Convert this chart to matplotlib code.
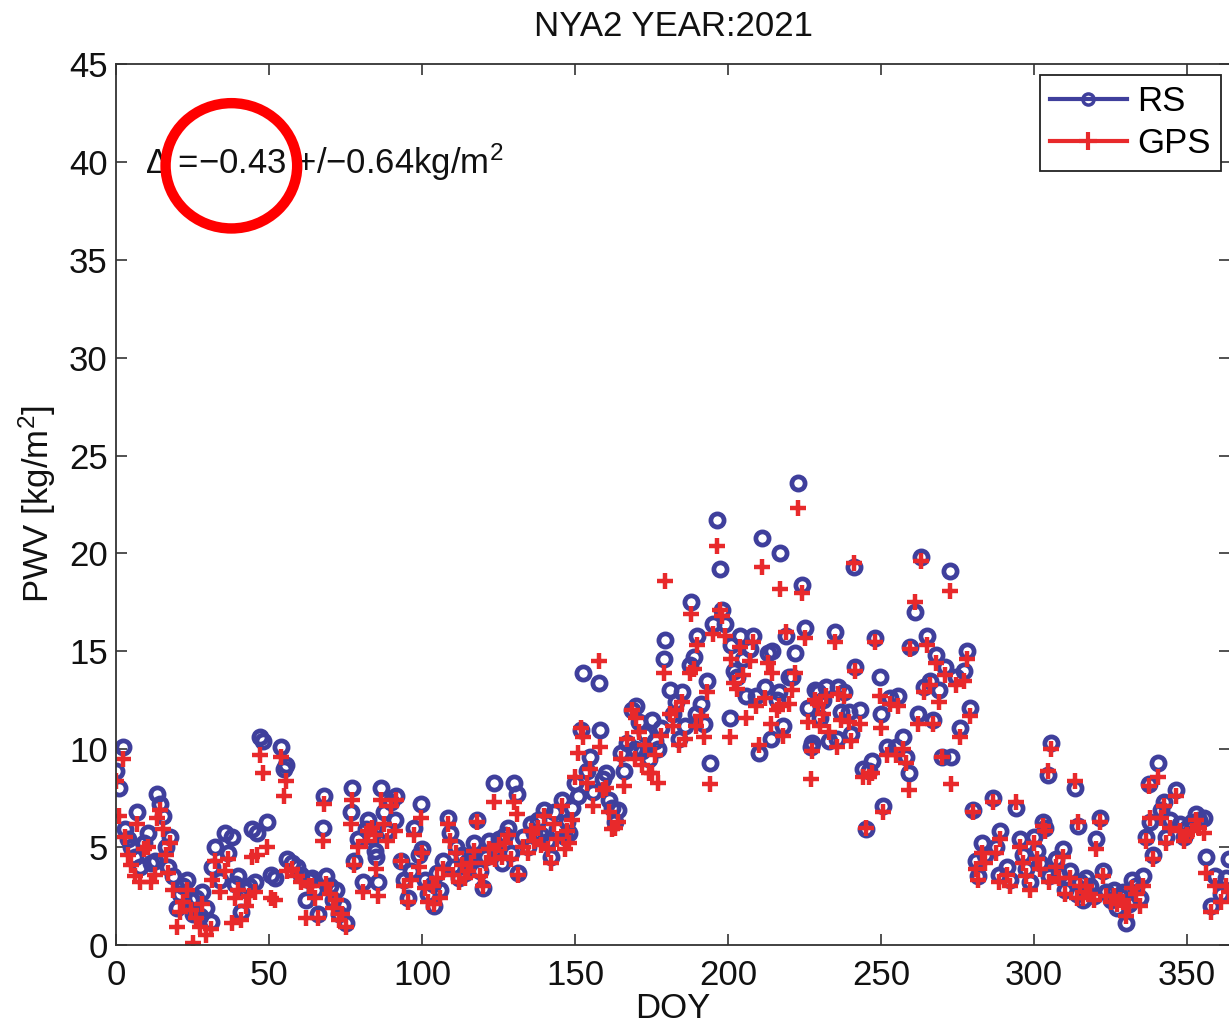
import matplotlib
matplotlib.use('Agg')
import matplotlib.pyplot as plt
from matplotlib.lines import Line2D
from matplotlib.patches import Ellipse

# DOY, radiosonde PWV, GPS PWV (kg/m^2)
doy = [0, 1, 2.3, 3, 4, 5, 6.2, 7, 8, 9, 10.5, 11.5, 12.8, 13.4, 14.5, 15.4, 16.2, 17, 17.7, 18.7,
       20, 21, 22, 23.3, 24.5, 25, 26.3, 27.5, 28, 29.5, 31, 31.5, 32.5, 34, 35.7, 36.5, 38, 39, 40, 41,
       42.5, 43.5, 44.6, 45.3, 46, 47, 48, 49.5, 50.5, 52, 53.8, 55, 55.4, 56, 57.5, 59, 60.5, 62, 63, 64,
       65, 66, 67.5, 68, 68.5, 70, 71, 72, 73, 74, 75, 76.7, 77, 77.7, 79, 80.6, 81.6, 82.5, 83.5, 84.5,
       85, 85.6, 86.5, 87.5, 88.5, 90, 91, 91.5, 93, 94, 95.4, 96.5, 97.5, 99, 99.7,
       100, 101, 102, 103.5, 104, 105, 106, 107, 108.5, 109, 110, 111, 112, 113, 114, 115, 116, 117, 118, 119,
       120, 121, 122, 123.6, 124, 125, 126, 127, 128, 129, 130, 131, 131.5, 133, 134.7, 135.5, 136.5, 138, 139, 140,
       141, 142, 143, 144, 145.6, 146.6, 147.5, 148, 149,
       150, 151, 152, 152.5, 154, 155, 156, 157.7, 158, 159, 160, 161, 162, 163, 164, 165, 166, 167, 168.5, 169.5,
       170, 171, 172, 173, 174, 175, 176, 177, 178, 179, 179.5, 181, 182, 183, 184, 185, 186, 187.5, 188, 189,
       189.5, 190, 191, 192, 193, 194, 195, 196.5, 197.5, 198, 199, 200.6,
       201, 202, 203, 204, 205, 206, 207, 208, 209, 210, 211, 212, 213, 214, 214.5, 216, 216.6, 217, 218, 219,
       220, 221, 222, 223, 224, 225, 226, 227, 227.5, 228.5, 229.5, 230, 231, 232, 233, 235, 235.5, 236, 237, 238,
       239.6, 240, 241, 241.6, 243, 244, 245, 246, 247, 248, 249.5, 250, 250.6,
       252, 253, 255, 255.5, 257, 258, 259, 259.5, 261, 262, 263, 264, 265, 266, 267, 268, 269, 270, 271, 272.5,
       272.8, 274.4, 275.7, 277, 278, 279, 280, 281, 281.5, 283, 284, 286.6, 287.5, 288.5, 289, 291, 292, 294,
       295.4, 296.5, 297.5, 298.7, 300,
       301, 302, 303, 303.6, 304.6, 305, 305.6, 307, 308, 309.5, 310, 311.8, 313.4, 314, 314.4, 315, 316, 317,
       318.3, 319.5, 320.3, 321.6, 322.6, 323.6, 325, 326, 327, 328, 329, 330, 331, 332, 333.4, 334.5, 335.7,
       336.7, 337.4, 338, 339, 340.6, 341.5, 342.3, 343, 344.5, 346.5, 347.5, 349, 350, 351.5, 353, 354, 355.4,
       356, 357.7, 359, 361, 362.6, 363.6]

rs = [8.9, 8.0, 10.1, 5.9, 5.4, 5.0, 4.5, 6.8, 4.0, 5.2, 5.7, 4.2, 4.3, 7.7, 7.2, 6.6, 5.0, 4.0, 5.5, 3.5,
      1.9, 2.6, 3.0, 3.3, 2.3, 1.6, 2.4, 1.5, 2.7, 1.9, 1.2, 4.0, 5.0, 3.3, 5.7, 4.7, 5.5, 3.1, 3.5, 1.7,
      2.8, 3.0, 5.9, 3.2, 5.7, 10.6, 10.4, 6.3, 3.6, 3.4, 10.1, 9.0, 9.2, 4.4, 4.2, 4.0, 3.6, 2.3, 3.3, 3.4,
      2.8, 1.6, 6.0, 7.6, 3.5, 3.0, 2.3, 2.8, 1.6, 2.0, 1.1, 6.8, 8.0, 4.3, 5.4, 3.2, 5.9, 6.4, 5.5, 4.8,
      4.5, 3.2, 8.0, 6.8, 5.8, 7.3, 6.4, 7.6, 4.3, 3.3, 2.4, 3.8, 6.0, 4.6, 7.2,
      4.9, 3.3, 2.6, 3.1, 2.0, 3.7, 2.8, 4.3, 6.5, 5.7, 4.0, 5.0, 3.4, 4.6, 3.7, 4.3, 4.5, 5.2, 6.4, 3.8,
      2.9, 4.5, 5.3, 8.3, 4.9, 5.4, 4.2, 5.6, 6.0, 4.7, 8.3, 7.7, 3.7, 5.5, 5.0, 6.2, 5.7, 6.4, 5.6, 6.9,
      5.3, 4.5, 6.8, 5.9, 7.4, 5.5, 6.3, 5.7, 7.0,
      8.3, 7.6, 11.0, 13.9, 8.9, 9.6, 7.8, 13.4, 11.0, 8.5, 8.8, 7.4, 7.0, 6.3, 6.9, 9.8, 8.9, 10.3, 12.0, 10.0,
      12.2, 11.4, 9.9, 10.8, 9.5, 11.5, 10.4, 10.0, 11.1, 14.6, 15.6, 13.0, 11.8, 12.4, 10.5, 12.9, 11.2, 14.3, 17.5, 14.7,
      11.8, 15.8, 12.3, 11.3, 13.5, 9.3, 16.4, 21.7, 19.2, 17.1, 16.4, 11.6,
      15.3, 14.0, 13.7, 15.8, 14.6, 12.7, 15.1, 15.8, 12.7, 9.8, 20.8, 13.2, 14.9, 10.5, 15.0, 12.5, 12.9, 20.0, 11.2, 15.8,
      13.7, 13.7, 14.9, 23.6, 18.4, 16.2, 12.1, 10.1, 10.3, 13.0, 12.9, 11.6, 12.5, 13.2, 10.4, 16.0, 10.5, 13.2, 11.9, 12.9,
      11.9, 10.8, 19.3, 14.2, 12.0, 9.0, 5.9, 8.9, 9.4, 15.7, 13.7, 11.8, 7.1,
      10.1, 12.6, 10.1, 12.7, 10.6, 9.6, 8.8, 15.2, 17.0, 11.8, 19.8, 13.2, 15.8, 13.5, 11.5, 14.8, 13.0, 9.6, 14.2, 19.1,
      9.6, 13.7, 11.1, 14.0, 15.0, 12.1, 6.9, 4.3, 3.5, 5.2, 4.6, 7.5, 5.0, 3.6, 5.8, 4.0, 3.3, 7.0,
      5.4, 4.6, 3.9, 3.2, 5.5,
      4.8, 4.2, 6.3, 6.0, 8.7, 3.5, 10.3, 4.4, 3.6, 4.9, 2.8, 3.8, 8.0, 2.6, 6.1, 3.2, 2.3, 3.4,
      3.0, 2.5, 5.4, 6.5, 3.8, 2.7, 2.3, 2.8, 1.9, 2.5, 2.7, 1.1, 2.1, 3.3, 3.0, 2.4, 3.5,
      5.5, 8.2, 6.3, 4.6, 9.3, 6.9, 7.3, 5.5, 6.4, 7.9, 6.2, 5.5, 6.0, 6.3, 6.7, 6.4, 6.5,
      4.5, 2.0, 3.5, 2.6, 3.4, 4.4]

gps = [8.4, 6.6, 9.5, 5.5, 4.6, 4.1, 3.5, 6.2, 3.2, 4.9, 5.0, 3.2, 3.6, 6.5, 6.9, 5.9, 4.6, 3.7, 5.2, 2.8,
       0.9, 1.7, 2.2, 2.8, 1.8, 0.1, 1.4, 0.9, 2.1, 0.5, 0.8, 3.3, 4.3, 2.7, 3.8, 4.4, 1.1, 2.4, 2.8, 1.3,
       2.0, 2.5, 4.5, 2.7, 4.6, 9.7, 8.8, 5.0, 2.4, 2.3, 9.6, 7.6, 8.4, 3.8, 3.9, 3.5, 3.2, 1.4, 3.0, 3.0,
       2.4, 1.4, 5.3, 7.2, 3.1, 2.6, 1.9, 2.3, 1.3, 1.6, 0.9, 6.2, 7.4, 4.1, 5.0, 2.7, 5.3, 5.8, 6.0, 5.6,
       3.9, 2.5, 7.4, 6.2, 5.3, 7.1, 5.8, 7.4, 4.3, 3.0, 2.2, 3.3, 5.6, 4.0, 6.5,
       4.7, 2.9, 2.2, 3.0, 2.1, 3.4, 2.4, 3.9, 6.2, 5.3, 3.6, 4.7, 3.2, 4.1, 3.4, 3.8, 4.2, 4.8, 6.3, 3.5,
       3.0, 4.2, 4.9, 7.3, 4.4, 5.1, 4.5, 5.2, 5.6, 4.4, 7.3, 6.7, 3.6, 5.0, 4.7, 5.8, 5.3, 6.0, 5.1, 6.6,
       4.9, 4.2, 6.2, 5.4, 7.1, 4.9, 5.8, 5.2, 6.4,
       8.6, 9.8, 11.1, 10.6, 8.3, 9.0, 7.1, 14.5, 10.1, 7.9, 8.0, 6.8, 5.9, 6.0, 6.3, 9.5, 8.1, 10.5, 12.0, 9.5,
       11.6, 10.9, 9.2, 10.2, 8.8, 8.8, 9.7, 8.3, 10.7, 13.9, 18.6, 11.8, 11.2, 12.0, 10.2, 12.4, 10.5, 13.9, 16.9, 14.1,
       11.2, 15.3, 11.7, 10.6, 12.9, 8.2, 15.9, 20.4, 17.1, 16.8, 15.8, 10.6,
       14.6, 13.4, 13.1, 15.2, 13.8, 11.6, 14.5, 15.5, 12.2, 10.2, 19.3, 12.6, 14.4, 11.3, 13.9, 12.0, 12.2, 18.2, 10.7, 16.0,
       12.3, 13.0, 13.9, 22.3, 18.0, 15.7, 11.4, 8.5, 9.9, 12.5, 12.3, 11.2, 11.8, 12.7, 10.9, 15.5, 10.1, 12.8, 11.5, 12.7,
       11.4, 10.4, 19.5, 14.0, 11.3, 8.6, 6.0, 8.6, 8.8, 15.5, 12.7, 11.1, 6.8,
       9.7, 12.3, 9.7, 12.2, 10.0, 9.3, 7.9, 15.1, 17.5, 11.3, 19.6, 12.9, 15.3, 13.3, 11.3, 14.4, 12.4, 9.6, 13.8, 18.1,
       8.2, 13.3, 10.6, 13.5, 14.6, 11.7, 6.8, 3.9, 3.3, 4.7, 4.2, 7.3, 4.7, 3.2, 5.4, 3.6, 3.0, 7.3,
       5.0, 4.2, 3.5, 2.8, 5.2,
       4.4, 3.9, 6.1, 5.8, 8.9, 3.2, 10.0, 4.0, 3.4, 4.5, 2.6, 3.4, 8.4, 2.4, 6.3, 3.0, 2.4, 3.0,
       2.6, 2.3, 4.9, 6.3, 3.5, 2.5, 2.2, 2.5, 2.1, 2.3, 2.2, 1.5, 2.0, 2.9, 2.6, 2.0, 3.0,
       5.3, 8.1, 6.5, 4.4, 8.6, 6.5, 7.1, 5.2, 6.0, 7.6, 5.8, 5.3, 5.6, 5.8, 6.4, 6.0, 5.7,
       3.7, 1.7, 3.0, 2.2, 3.0, 2.7]

title = 'NYA2 YEAR:2021'
xticks = [0, 50, 100, 150, 200, 250, 300, 350]
yticks = [0, 5, 10, 15, 20, 25, 30, 35, 40, 45]

BLUE = '#3f3f9c'
RED = '#e8292b'
FS = 25

plt.rcParams['font.family'] = ['Liberation Sans', 'DejaVu Sans']
plt.rcParams['mathtext.fontset'] = 'custom'
plt.rcParams['mathtext.rm'] = 'Liberation Sans'
plt.rcParams['mathtext.it'] = 'Liberation Sans'
plt.rcParams['mathtext.default'] = 'regular'

fig = plt.figure(figsize=(12.29, 10.23), dpi=100)
ax = fig.add_axes([116 / 1229, 78 / 1023, 1114 / 1229, 881 / 1023])

ax.plot(doy, rs, linestyle='none', marker='o', markersize=9.5, markerfacecolor='none',
        markeredgecolor=BLUE, markeredgewidth=3.4)
ax.plot(doy, gps, linestyle='none', marker='+', markersize=11,
        markeredgecolor=RED, markeredgewidth=3.2)

ax.set_xlim(0, 364)
ax.set_ylim(0, 45)
ax.set_xticks(xticks)
ax.set_yticks(yticks)
ax.tick_params(direction='in', length=8, width=1.1, labelsize=FS,
               top=True, right=True, colors='#222222', labelcolor='#111111')
ax.tick_params(axis='x', pad=10)
ax.tick_params(axis='y', pad=6)
for s in ax.spines.values():
    s.set_linewidth(1.3)
    s.set_color('#333333')

ax.set_title(title, fontsize=FS, pad=20, color='#111111')
ax.set_xlabel('DOY', fontsize=FS, labelpad=0, color='#111111')
ax.set_ylabel('PWV [kg/m$^2$]', fontsize=FS, labelpad=8, color='#111111')

ax.text(9.5, 40, '\u0394 =\u22120.43 +/\u22120.64kg/m$^2$', fontsize=FS, va='center',
        ha='left', color='#111111')

# red highlight ring around the mean difference
ax.add_patch(Ellipse((37.7, 39.8), 43, 6.4, fill=False, edgecolor='#ff0000',
                     linewidth=7.5, zorder=5))

handles = [Line2D([], [], color=BLUE, linewidth=3, marker='o', markersize=8,
                  markerfacecolor='none', markeredgewidth=2.5),
           Line2D([], [], color=RED, linewidth=3, marker='+', markersize=13,
                  markeredgewidth=3)]
leg = ax.legend(handles, ['RS', 'GPS'], loc='upper right', fontsize=FS,
                bbox_to_anchor=(1221 / 1229, 1 - 75 / 1023), bbox_transform=fig.transFigure,
                borderaxespad=0, fancybox=False, framealpha=1, edgecolor='#222222',
                handlelength=2.2, handletextpad=0.3, borderpad=0.3, labelspacing=0.25)
leg.get_frame().set_linewidth(1.3)

fig.savefig('out.png', dpi=100)
